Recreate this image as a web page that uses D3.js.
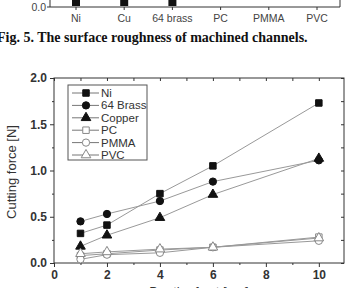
<!DOCTYPE html>
<html>
<head>
<meta charset="utf-8">
<script src="https://cdn.jsdelivr.net/npm/d3@7"></script>
<style>
  body { margin: 0; background: #fff; }
  svg { display: block; }
  text { font-family: "Liberation Sans", Arial, sans-serif; }
</style>
</head>
<body>
<svg id="chart" width="350" height="288"></svg>
<script>
// top figure (only its bottom edge is visible)
var barCats = ["Ni", "Cu", "64 brass", "PC", "PMMA", "PVC"];
var barVals = [0.9, 0.8, 0.85, 0.02, 0.03, 0.02];

// cutting force vs depth of cut
var depths = [1, 2, 4, 6, 10];
var ni = [0.32, 0.41, 0.75, 1.05, 1.73];
var brass = [0.45, 0.53, 0.67, 0.88, 1.11];
var copper = [0.18, 0.30, 0.49, 0.74, 1.13];
var pc = [0.08, 0.10, 0.14, 0.17, 0.28];
var pmma = [0.04, 0.09, 0.11, 0.17, 0.24];
var pvc = [0.10, 0.12, 0.15, 0.17, 0.27];
var seriesNames = ["Ni", "64 Brass", "Copper", "PC", "PMMA", "PVC"];
var xTicks = [0, 2, 4, 6, 8, 10];
var yTicks = [0.0, 0.5, 1.0, 1.5, 2.0];

var svg = d3.select("#chart");

// ---- remnant of the bar chart above ----
var bx = d3.scalePoint().domain(barCats).range([76, 317]);
var by = d3.scaleLinear().domain([0, 1]).range([7, -100]);

svg.append("line").attr("x1", 50).attr("x2", 340).attr("y1", 7).attr("y2", 7)
    .attr("stroke", "#333").attr("stroke-width", 1);
svg.append("line").attr("x1", 50).attr("x2", 50).attr("y1", 0).attr("y2", 7)
    .attr("stroke", "#333");
svg.append("line").attr("x1", 340).attr("x2", 340).attr("y1", 0).attr("y2", 7)
    .attr("stroke", "#333");
svg.selectAll(".bar").data(barCats).enter().append("rect")
    .attr("x", function(d) { return bx(d) - 4; })
    .attr("width", 8)
    .attr("y", function(d, i) { return by(barVals[i]); })
    .attr("height", function(d, i) { return by(0) - by(barVals[i]) - 1; })
    .attr("fill", function(d, i) { return i < 3 ? "#111" : "#fff"; });
svg.selectAll(".btick").data(barCats).enter().append("line")
    .attr("x1", function(d) { return bx(d); }).attr("x2", function(d) { return bx(d); })
    .attr("y1", 7).attr("y2", 10).attr("stroke", "#333");
svg.selectAll(".blab").data(barCats).enter().append("text")
    .attr("x", function(d) { return bx(d); }).attr("y", 22)
    .attr("text-anchor", "middle").attr("font-size", 10.5).attr("fill", "#444")
    .text(function(d) { return d; });
svg.append("text").attr("x", 46).attr("y", 11).attr("text-anchor", "end")
    .attr("font-size", 10.5).attr("fill", "#444").text("0.0");
svg.append("line").attr("x1", 47).attr("x2", 50).attr("y1", 7).attr("y2", 7).attr("stroke", "#333");

svg.append("text").attr("x", -3).attr("y", 42)
    .style("font-family", "'Liberation Serif', 'Times New Roman', serif")
    .attr("font-weight", "bold").attr("font-size", 14).attr("fill", "#111")
    .text("Fig. 5. The surface roughness of machined channels.");

// ---- line chart ----
var pLeft = 54, pRight = 344, pTop = 78, pBottom = 263;
var x = d3.scaleLinear().domain([0, 10.95]).range([pLeft, pRight]);
var y = d3.scaleLinear().domain([0, 2]).range([pBottom, pTop]);

svg.append("rect").attr("x", pLeft).attr("y", pTop)
    .attr("width", pRight - pLeft).attr("height", pBottom - pTop)
    .attr("fill", "none").attr("stroke", "#333").attr("stroke-width", 1);

var xMinor = d3.range(1, 11, 2);
var yMinor = d3.range(0.25, 2, 0.5);

function plain(g) { g.select(".domain").remove(); g.selectAll("line").attr("stroke", "#333"); }

svg.append("g").attr("transform", "translate(0," + pBottom + ")")
    .call(d3.axisBottom(x).tickValues(xTicks).tickSize(4).tickPadding(3).tickFormat(d3.format("d")))
    .call(plain)
    .call(function(g) { g.selectAll("text").attr("font-size", 12).attr("fill", "#333").attr("font-weight", "bold"); });
svg.append("g").attr("transform", "translate(0," + pBottom + ")")
    .call(d3.axisBottom(x).tickValues(xMinor).tickSize(2).tickFormat(""))
    .call(plain);
svg.append("g").attr("transform", "translate(0," + pTop + ")")
    .call(d3.axisBottom(x).tickValues(xTicks.concat(xMinor)).tickSize(3).tickFormat(""))
    .call(plain);

svg.append("g").attr("transform", "translate(" + pLeft + ",0)")
    .call(d3.axisLeft(y).tickValues(yTicks).tickSize(4).tickPadding(3).tickFormat(d3.format(".1f")))
    .call(plain)
    .call(function(g) { g.selectAll("text").attr("font-size", 12).attr("fill", "#333").attr("font-weight", "bold"); });
svg.append("g").attr("transform", "translate(" + pLeft + ",0)")
    .call(d3.axisLeft(y).tickValues(yMinor).tickSize(2).tickFormat(""))
    .call(plain);
svg.append("g").attr("transform", "translate(" + pRight + ",0)")
    .call(d3.axisLeft(y).tickValues(yTicks.concat(yMinor)).tickSize(3).tickFormat(""))
    .call(plain);

svg.append("text").attr("transform", "translate(16,172) rotate(-90)")
    .attr("text-anchor", "middle").attr("font-size", 13).attr("fill", "#333")
    .text("Cutting force [N]");
svg.append("text").attr("x", (pLeft + pRight) / 2).attr("y", 296)
    .attr("text-anchor", "middle").attr("font-size", 13).attr("fill", "#333")
    .text("Depth of cut [μm]");

var allSeries = [ni, brass, copper, pc, pmma, pvc];
var shapes = [d3.symbolSquare, d3.symbolCircle, d3.symbolTriangle, d3.symbolSquare, d3.symbolCircle, d3.symbolTriangle];
var sizes = [42, 42, 40, 42, 42, 40];
var filled = [true, true, true, false, false, false];

var line = d3.line()
    .x(function(d, i) { return x(depths[i]); })
    .y(function(d) { return y(d); });

allSeries.forEach(function(vals, s) {
    svg.append("path").datum(vals).attr("d", line)
        .attr("fill", "none").attr("stroke", "#999").attr("stroke-width", 1);
});
allSeries.forEach(function(vals, s) {
    svg.selectAll(".m" + s).data(vals).enter().append("path")
        .attr("transform", function(d, i) { return "translate(" + x(depths[i]) + "," + y(d) + ")"; })
        .attr("d", d3.symbol().type(shapes[s]).size(sizes[s]))
        .attr("fill", filled[s] ? "#111" : "#fff")
        .attr("stroke", filled[s] ? "#111" : "#888")
        .attr("stroke-width", 1);
});

// legend
var lg = svg.append("g");
lg.append("rect").attr("x", 68).attr("y", 85).attr("width", 79).attr("height", 75)
    .attr("fill", "#fff").attr("stroke", "#555");
seriesNames.forEach(function(name, s) {
    var ly = 93 + s * 12.4;
    lg.append("line").attr("x1", 72).attr("x2", 99).attr("y1", ly).attr("y2", ly)
        .attr("stroke", "#777");
    lg.append("path").attr("transform", "translate(86," + ly + ")")
        .attr("d", d3.symbol().type(shapes[s]).size(sizes[s]))
        .attr("fill", filled[s] ? "#111" : "#fff")
        .attr("stroke", filled[s] ? "#111" : "#888");
    lg.append("text").attr("x", 101).attr("y", ly + 4).attr("font-size", 11.5)
        .attr("fill", "#333").text(name);
});
</script>
</body>
</html>
